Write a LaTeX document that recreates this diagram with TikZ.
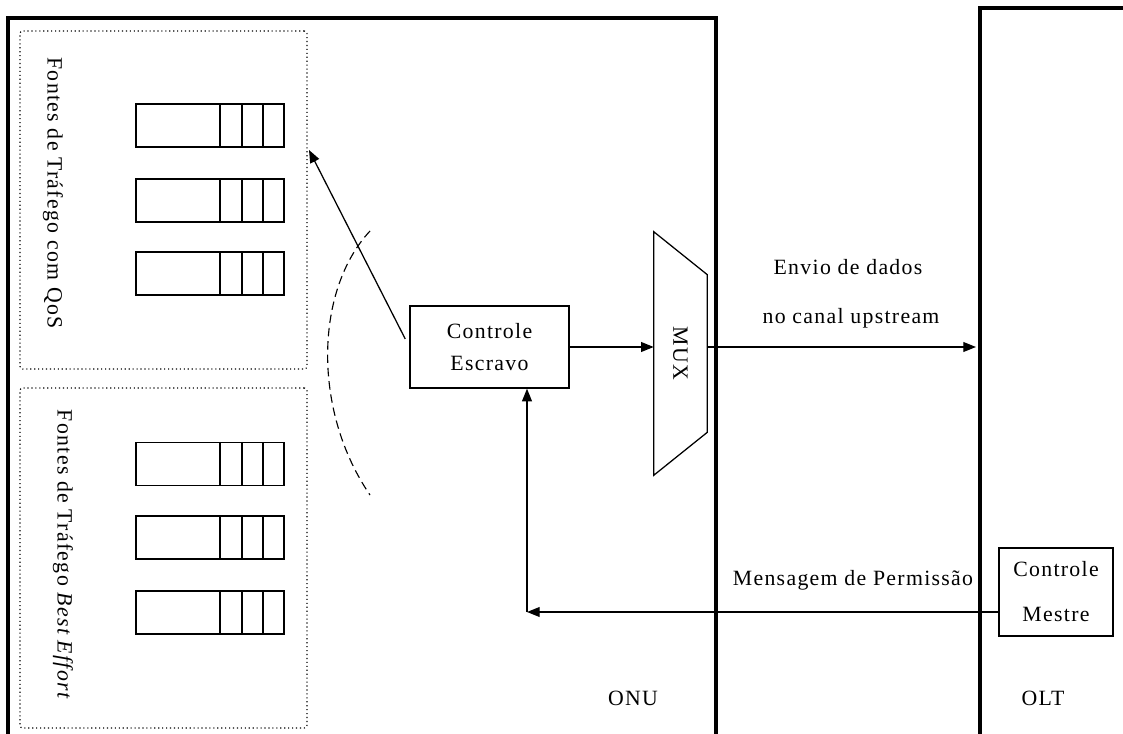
\documentclass[tikz,border=0pt]{standalone}
\usepackage{fontspec}
\setmainfont{Liberation Serif}[LetterSpace=6]
\usetikzlibrary{arrows.meta}

\begin{document}
\begin{tikzpicture}
    [
        x=0.025cm, y=-0.025cm,
        every node/.style={font=\fontsize{15.5}{18}\selectfont, inner sep=0pt},
        arrow/.style={-{Triangle[length=9pt,width=7pt]}, line width=0.9pt},
        block/.style={draw, line width=0.9pt, align=center},
        queue/.style={draw, line width=1pt, minimum width=3.7cm, minimum height=1.075cm},
        group/.style={draw, dotted, line width=0.8pt, rounded corners=2pt, minimum width=7.175cm},
        frame/.style={line width=2.2pt},
    ]
  \useasboundingbox (0,0) rectangle (1123,734);

  % Frames
  \draw [frame] (8,734) -- (8,18) -- (716,18) -- (716,734);
  \draw [frame] (980,734) -- (980,8) -- (1123,8);

  % Source groups
  \node [group, minimum height=8.45cm] (qos) at (163.5,200) {};
  \node [group, minimum height=8.5cm] (be) at (163.5,558) {};
  \node [rotate=-90] (qoslabel) at (53,193) {Fontes de Tráfego com QoS};
  \node [rotate=-90] (belabel) at (63,555) {Fontes de Tráfego \textit{Best Effort}};

  % Queues
  \foreach \y [count=\i] in {125.5,200.5,273.5,464,537.5,612.5} {
    \node [queue] (q\i) at (210,\y) {};
    \foreach \d in {10,32,53}
      \draw [line width=1pt] ([xshift=\d*0.025cm]q\i.north) -- ([xshift=\d*0.025cm]q\i.south);
  }

  % Nodes
  \node [block, minimum width=3.975cm, minimum height=2.05cm] (escravo) at (489.5,347) {Controle\\[5pt]Escravo};
  \node [block, minimum width=2.85cm, minimum height=2.2cm] (mestre) at (1056,592) {Controle\\[14pt]Mestre};
  \node [rotate=-90, minimum width=6.075cm, minimum height=1.325cm] (mux) at (680.5,353.5) {MUX};
  \draw [line width=0.9pt] (mux.south west) -- ([yshift=-43*0.025cm]mux.north west)
    -- ([yshift=43*0.025cm]mux.north east) -- (mux.south east) -- cycle;

  % Labels
  \node (envio) at (848,267) {Envio de dados};
  \node (canal) at (851,318) {no canal upstream};
  \node (perm) at (853,580) {Mensagem de Permissão};
  \node (onu) at (633,698) {ONU};
  \node (olt) at (1043,698) {OLT};

  \coordinate (upend) at (976,347);
  \coordinate (qosin) at (309,150);
  \coordinate (turn) at (527,612);

  % Connections
  \draw [arrow] (escravo.east) -- (escravo.east -| mux.south);
  \draw [arrow] (escravo.east -| mux.north) -- (upend);
  \draw [arrow, shorten <=6.4pt] (escravo.west) -- (qosin);
  \draw [arrow] (turn -| mestre.west) -- (turn);
  \draw [arrow] (turn) -- (turn |- escravo.south);

  % Boundary
  \draw [dash pattern=on 6pt off 3.5pt, line width=0.8pt] (370,231) .. controls (315,290) and (312,410) .. (370,495);
\end{tikzpicture}
\end{document}
